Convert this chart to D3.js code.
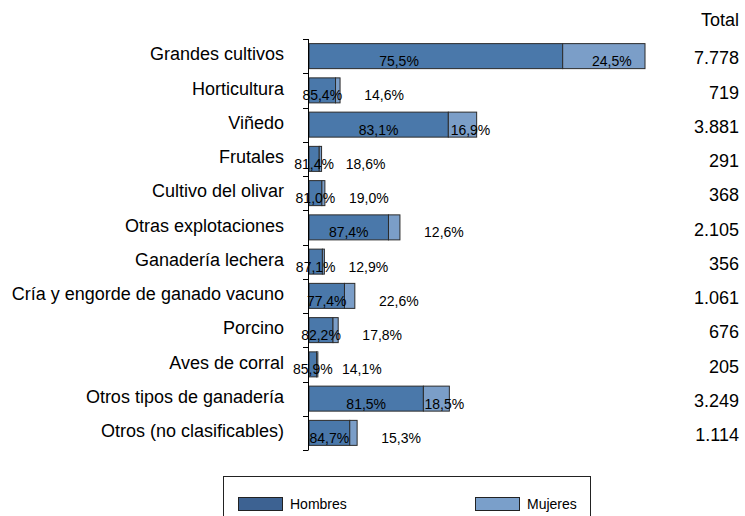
<!DOCTYPE html>
<html>
<head>
<meta charset="utf-8">
<script src="https://cdn.jsdelivr.net/npm/d3@7"></script>
<style>
  body { margin: 0; background: #fff; }
  text { font-family: "Liberation Sans", Arial, sans-serif; fill: #000; }
</style>
</head>
<body>
<svg id="chart" width="745" height="516"></svg>
<script>
// values
const categories = [
  "Grandes cultivos", "Horticultura", "Viñedo", "Frutales", "Cultivo del olivar",
  "Otras explotaciones", "Ganadería lechera", "Cría y engorde de ganado vacuno",
  "Porcino", "Aves de corral", "Otros tipos de ganadería", "Otros (no clasificables)"
];
const pctHombres = [75.5, 85.4, 83.1, 81.4, 81.0, 87.4, 87.1, 77.4, 82.2, 85.9, 81.5, 84.7];
const pctMujeres = [24.5, 14.6, 16.9, 18.6, 19.0, 12.6, 12.9, 22.6, 17.8, 14.1, 18.5, 15.3];
const totals = [7778, 719, 3881, 291, 368, 2105, 356, 1061, 676, 205, 3249, 1114];
const seriesNames = ["Hombres", "Mujeres"];

const svg = d3.select("#chart");
const barColors = { Hombres: "#4a78aa", Mujeres: "#7b9ec8" };
const legendColors = { Hombres: "#3d6292", Mujeres: "#7a9fca" };

// spanish number format: 7.778 and 75,5
const es = d3.formatLocale({ decimal: ",", thousands: ".", grouping: [3], currency: ["", " €"] });
const fmtTotal = es.format(",d");
const fmtPct = es.format(".1f");

// the bars are counts, split by the shares
const rows = categories.map((c, i) => ({
  cat: c,
  Hombres: totals[i] * pctHombres[i] / 100,
  Mujeres: totals[i] * pctMujeres[i] / 100,
  pH: pctHombres[i],
  pM: pctMujeres[i],
  total: totals[i]
}));

const y = d3.scaleBand()
  .domain(categories)
  .range([39, 450])
  .paddingInner(0.27)
  .paddingOuter(0.135);

const x = d3.scaleLinear()
  .domain([0, 8000])
  .range([309, 654.6]);

const stacked = d3.stack().keys(seriesNames)(rows);

// bars
svg.append("g")
  .selectAll("g")
  .data(stacked)
  .join("g")
  .attr("fill", d => barColors[d.key])
  .selectAll("rect")
  .data(d => d)
  .join("rect")
  .attr("x", d => x(d[0]))
  .attr("y", d => y(d.data.cat))
  .attr("width", d => x(d[1]) - x(d[0]))
  .attr("height", y.bandwidth())
  .attr("stroke", "#2b2b2b")
  .attr("stroke-width", 1);

// axis line with ticks at the band edges
const step = y.step();
const y0 = y.range()[0];
const axis = svg.append("g");
axis.append("line")
  .attr("x1", 308.5).attr("x2", 308.5)
  .attr("y1", y0).attr("y2", y.range()[1])
  .attr("stroke", "#000");
axis.selectAll("line.tick")
  .data(d3.range(categories.length + 1))
  .join("line")
  .attr("class", "tick")
  .attr("x1", 303).attr("x2", 308.5)
  .attr("y1", i => Math.round(y0 + i * step) + 0.5)
  .attr("y2", i => Math.round(y0 + i * step) + 0.5)
  .attr("stroke", "#000");

const mid = d => y(d.cat) + y.bandwidth() / 2;

// category names
svg.append("g")
  .selectAll("text")
  .data(rows)
  .join("text")
  .attr("x", 284)
  .attr("y", d => mid(d) - 2)
  .attr("dy", "0.35em")
  .attr("text-anchor", "end")
  .style("font-size", "18px")
  .text(d => d.cat);

// percentage labels
const lab = svg.append("g").style("font-size", "14px").attr("text-anchor", "middle");
lab.selectAll("text.h")
  .data(rows)
  .join("text")
  .attr("class", "h")
  .attr("x", d => Math.min((x(0) + x(d.Hombres)) / 2, x(0) + 90))
  .attr("y", d => mid(d) + 5)
  .attr("dy", "0.35em")
  .text(d => fmtPct(d.pH) + "%");
lab.selectAll("text.m")
  .data(rows)
  .join("text")
  .attr("class", "m")
  .attr("x", d => {
    const a = x(d.Hombres), b = x(d.total);
    return b - a > 25 ? (a + b) / 2 + 8 : b + 44;
  })
  .attr("y", d => mid(d) + 5)
  .attr("dy", "0.35em")
  .text(d => fmtPct(d.pM) + "%");

// totals column
svg.append("text")
  .attr("x", 739).attr("y", 20).attr("dy", "0.35em")
  .attr("text-anchor", "end")
  .style("font-size", "18px")
  .text("Total");
svg.append("g")
  .selectAll("text")
  .data(rows)
  .join("text")
  .attr("x", 739)
  .attr("y", d => mid(d) + 2)
  .attr("dy", "0.35em")
  .attr("text-anchor", "end")
  .style("font-size", "18px")
  .text(d => fmtTotal(d.total));

// legend box, runs off the bottom edge
const leg = svg.append("g");
leg.append("rect")
  .attr("x", 223.5).attr("y", 476.5)
  .attr("width", 367).attr("height", 60)
  .attr("fill", "none").attr("stroke", "#222");
const legX = { Hombres: 238, Mujeres: 475 };
seriesNames.forEach(k => {
  leg.append("rect")
    .attr("x", legX[k] + 0.5).attr("y", 497.5)
    .attr("width", 44).attr("height", 13)
    .attr("fill", legendColors[k]).attr("stroke", "#222");
  leg.append("text")
    .attr("x", legX[k] + 52).attr("y", 504).attr("dy", "0.35em")
    .style("font-size", "14px")
    .text(k);
});
</script>
</body>
</html>
